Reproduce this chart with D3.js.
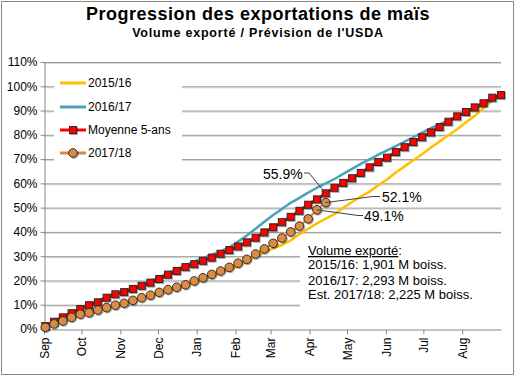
<!DOCTYPE html>
<html><head><meta charset="utf-8">
<script src="https://cdnjs.cloudflare.com/ajax/libs/d3/7.8.5/d3.min.js"></script>
<style>
body{margin:0;background:#fff}
svg{display:block;font-family:"Liberation Sans",Arial,sans-serif}
</style>
</head><body>
<svg id="c" width="516" height="378"></svg>
<script>
// ---- data ----
const weekDates = [
 "2017-09-02","2017-09-09","2017-09-16","2017-09-23","2017-09-30",
 "2017-10-07","2017-10-14","2017-10-21","2017-10-28",
 "2017-11-04","2017-11-11","2017-11-18","2017-11-25",
 "2017-12-02","2017-12-09","2017-12-16","2017-12-23","2017-12-30",
 "2018-01-06","2018-01-13","2018-01-20","2018-01-27",
 "2018-02-03","2018-02-10","2018-02-17","2018-02-24",
 "2018-03-03","2018-03-10","2018-03-17","2018-03-24","2018-03-31",
 "2018-04-07","2018-04-14","2018-04-21","2018-04-28",
 "2018-05-05","2018-05-12","2018-05-19","2018-05-26",
 "2018-06-02","2018-06-09","2018-06-16","2018-06-23","2018-06-30",
 "2018-07-07","2018-07-14","2018-07-21","2018-07-28",
 "2018-08-04","2018-08-11","2018-08-18","2018-08-25","2018-09-01"];
const monthStarts = ["2017-09-01","2017-10-01","2017-11-01","2017-12-01","2018-01-01","2018-02-01",
 "2018-03-01","2018-04-01","2018-05-01","2018-06-01","2018-07-01","2018-08-01"];
const monthLabels = ["Sep","Oct","Nov","Dec","Jan","Feb","Mar","Apr","May","Jun","Jul","Aug"];
const yTicks = [0,10,20,30,40,50,60,70,80,90,100,110];
const seriesNames = ["2015/16","2016/17","Moyenne 5-ans","2017/18"];

const s1516 = [0.5,1.8,3.0,4.4,5.7,6.4,7.5,8.5,9.5,10.3,11.4,12.5,13.5,14.6,15.7,16.7,17.7,19.1,20.4,21.7,
 23.0,24.4,26.0,27.9,29.8,31.5,33.2,34.6,36.5,39.0,41.3,43.5,45.5,47.3,49.9,52.3,54.5,56.6,59.2,61.6,
 64.5,67.0,69.5,72.0,74.8,77.3,79.8,82.3,85.2,87.8,91.0,94.0,96.2];
const s1617 = [1.2,3.2,5.2,7.0,8.7,10.3,11.6,13.4,14.8,15.8,17.1,18.4,19.8,21.3,23.1,24.6,26.3,27.8,29.2,30.6,
 32.0,33.6,36.0,38.5,41.3,44.2,47.0,49.4,52.0,54.0,56.2,58.2,60.0,61.8,63.9,66.0,68.0,69.9,71.8,73.6,
 75.3,77.2,79.0,80.9,82.7,84.3,86.0,87.6,89.2,90.8,92.5,94.1,95.7];
const avg5 = [1.2,3.0,4.8,6.5,8.2,9.8,11.0,12.9,14.3,15.2,16.5,17.8,19.1,20.6,22.4,23.9,25.5,26.7,28.1,29.4,
 31.0,32.5,34.0,35.7,37.6,39.8,41.9,44.0,46.2,48.7,51.2,53.4,55.9,58.2,60.2,62.1,64.3,66.6,68.8,70.6,
 72.9,74.9,77.0,79.0,81.0,83.2,85.4,87.6,89.4,91.3,93.0,95.3,96.4];
const s1718 = [0.7,2.1,3.3,4.8,6.1,6.7,7.8,8.8,9.8,10.6,11.8,12.9,13.9,15.1,16.2,17.2,18.2,19.8,21.1,22.5,
 23.9,25.4,27.1,28.7,30.9,33.0,35.3,37.5,40.0,42.4,45.4,49.1,52.1];

const annotations = [
 {label:"55.9%", series:"avg", idx:32, tx:263, ty:179, pts:[[304,173],[309,173]]},
 {label:"52.1%", series:"cur", idx:32, tx:382, ty:202, pts:[[380,196.5],[373,196.5]]},
 {label:"49.1%", series:"cur", idx:31, tx:364, ty:221, pts:[[363,215.5],[358,215.5]]}
];
const volumeTitle = "Volume exporté";
const volumeLines = ["2015/16: 1,901 M boiss.","2016/17: 2,293 M boiss.","Est. 2017/18: 2,225 M boiss."];

// ---- colors ----
const C = {y1516:"#FFC000", y1617:"#4AA2BA", avg:"#FF0000", cur:"#D98C46", curLine:"#D08A50"};

const parse = d3.timeParse("%Y-%m-%d");
const dates = weekDates.map(parse);
const svg = d3.select("#c");

const defs = svg.append("defs");
const f = defs.append("filter").attr("id","sh").attr("x","-50%").attr("y","-50%").attr("width","200%").attr("height","200%");
f.append("feDropShadow").attr("dx",1).attr("dy",1).attr("stdDeviation",0.6).attr("flood-color","#000").attr("flood-opacity",0.35);

// outer frame
svg.append("rect").attr("x",1.5).attr("y",1.5).attr("width",512).attr("height",373)
  .attr("fill","#fff").attr("stroke","#8a8a8a");

// titles
svg.append("text").attr("x",258).attr("y",20).attr("text-anchor","middle")
  .attr("font-weight","bold").attr("font-size",18).style("letter-spacing","0.5px")
  .text("Progression des exportations de maïs");
svg.append("text").attr("x",258).attr("y",37).attr("text-anchor","middle")
  .attr("font-weight","bold").attr("font-size",12.5).style("letter-spacing","0.8px")
  .text("Volume exporté / Prévision de l'USDA");

const x = d3.scaleTime().domain([parse("2017-09-01"), parse("2018-09-01")]).range([44, 501]);
const y = d3.scaleLinear().domain([0,110]).range([329, 62]);

// gridlines
const grid = svg.append("g");
yTicks.filter(t=>t>0).forEach(t=>{
  grid.append("line").attr("x1",44).attr("x2",501).attr("y1",y(t)+1.5).attr("y2",y(t)+1.5)
    .attr("stroke","#d6d6d6").attr("stroke-width",1);
  grid.append("line").attr("x1",44).attr("x2",501).attr("y1",y(t)+0.5).attr("y2",y(t)+0.5)
    .attr("stroke","#9a9a9a").attr("stroke-width",1);
});

// white boxes (legend and text)
svg.append("rect").attr("x",54).attr("y",71).attr("width",128).attr("height",93).attr("fill","#fff");
svg.append("rect").attr("x",300).attr("y",240).attr("width",202).attr("height",73).attr("fill","#fff");

// axes
const yAxis = svg.append("g").attr("transform","translate(44.5,0)")
  .call(d3.axisLeft(y).tickValues(yTicks).tickFormat(d=>d+"%").tickSize(4).tickSizeOuter(0).tickPadding(3));
yAxis.select(".domain").attr("stroke","#8a8a8a");
yAxis.selectAll(".tick line").attr("stroke","#8a8a8a");
yAxis.selectAll("text").attr("font-size",12).attr("font-family","Liberation Sans, Arial, sans-serif").attr("fill","#000");

const xAxis = svg.append("g").attr("transform","translate(0,329.5)")
  .call(d3.axisBottom(x).tickValues(monthStarts.map(parse)).tickFormat((d,i)=>monthLabels[i]).tickSize(5).tickSizeOuter(0));
xAxis.select(".domain").attr("stroke","#8a8a8a");
xAxis.selectAll(".tick line").attr("stroke","#8a8a8a");
xAxis.selectAll("text").attr("font-size",12).attr("font-family","Liberation Sans, Arial, sans-serif").attr("fill","#000")
  .attr("transform","rotate(-90)").attr("text-anchor","end").attr("x",-8).attr("y",0).attr("dy","0.35em");

// lines
const line = (arr)=>d3.line().x((d,i)=>x(dates[i])).y(d=>y(d))(arr);
svg.append("path").attr("d",line(s1516)).attr("fill","none").attr("stroke",C.y1516).attr("stroke-width",2.5).attr("stroke-linejoin","round");
svg.append("path").attr("d",line(s1617)).attr("fill","none").attr("stroke",C.y1617).attr("stroke-width",2.5).attr("stroke-linejoin","round");
svg.append("path").attr("d",line(avg5)).attr("fill","none").attr("stroke",C.avg).attr("stroke-width",3).attr("stroke-linejoin","round");
svg.append("g").attr("filter","url(#sh)").selectAll("rect").data(avg5).join("rect")
  .attr("x",(d,i)=>x(dates[i])-3.5).attr("y",d=>y(d)-3.5).attr("width",7).attr("height",7)
  .attr("fill",C.avg).attr("stroke","#2a2a2a").attr("stroke-width",1);
svg.append("path").attr("d",line(s1718)).attr("fill","none").attr("stroke",C.curLine).attr("stroke-width",2);
svg.append("g").attr("filter","url(#sh)").selectAll("circle").data(s1718).join("circle")
  .attr("cx",(d,i)=>x(dates[i])).attr("cy",d=>y(d)).attr("r",4.3)
  .attr("fill",C.cur).attr("stroke","#3a2a1a").attr("stroke-width",1);

// legend
const legendItems = [
  {name:seriesNames[0], color:C.y1516, marker:null},
  {name:seriesNames[1], color:C.y1617, marker:null},
  {name:seriesNames[2], color:C.avg, marker:"square"},
  {name:seriesNames[3], color:C.curLine, marker:"circle"}
];
const legendY = [83,107,130,153];
legendItems.forEach((it,i)=>{
  const g = svg.append("g").attr("transform",`translate(0,${legendY[i]})`);
  g.append("line").attr("x1",60).attr("x2",86).attr("y1",0).attr("y2",0).attr("stroke",it.color).attr("stroke-width",3);
  if(it.marker==="square") g.append("rect").attr("x",69.5).attr("y",-3.5).attr("width",7).attr("height",7).attr("fill",C.avg).attr("stroke","#2a2a2a").attr("filter","url(#sh)");
  if(it.marker==="circle") g.append("circle").attr("cx",73).attr("cy",0).attr("r",4.3).attr("fill",C.cur).attr("stroke","#3a2a1a").attr("filter","url(#sh)");
  g.append("text").attr("x",88).attr("y",0).attr("dy","0.35em").attr("font-size",12).text(it.name);
});

// annotations
annotations.forEach(a=>{
  const arr = a.series==="avg"?avg5:s1718;
  const px = x(dates[a.idx]), py = y(arr[a.idx]);
  const pts = a.pts.slice();
  pts.push([px,py]);
  svg.append("path").attr("d",d3.line()(pts)).attr("fill","none").attr("stroke","#404040").attr("stroke-width",1);
  svg.append("text").attr("x",a.tx).attr("y",a.ty).attr("font-size",14).text(a.label);
});

// volume text block
const vt = svg.append("text").attr("x",308).attr("y",255).attr("font-size",13);
vt.append("tspan").style("text-decoration","underline").text(volumeTitle);
vt.append("tspan").text(":");
const vBase = [269,284.5,299];
volumeLines.forEach((t,i)=>{
  svg.append("text").attr("x",308).attr("y",vBase[i]).attr("font-size",13).text(t);
});
</script>
</body></html>
